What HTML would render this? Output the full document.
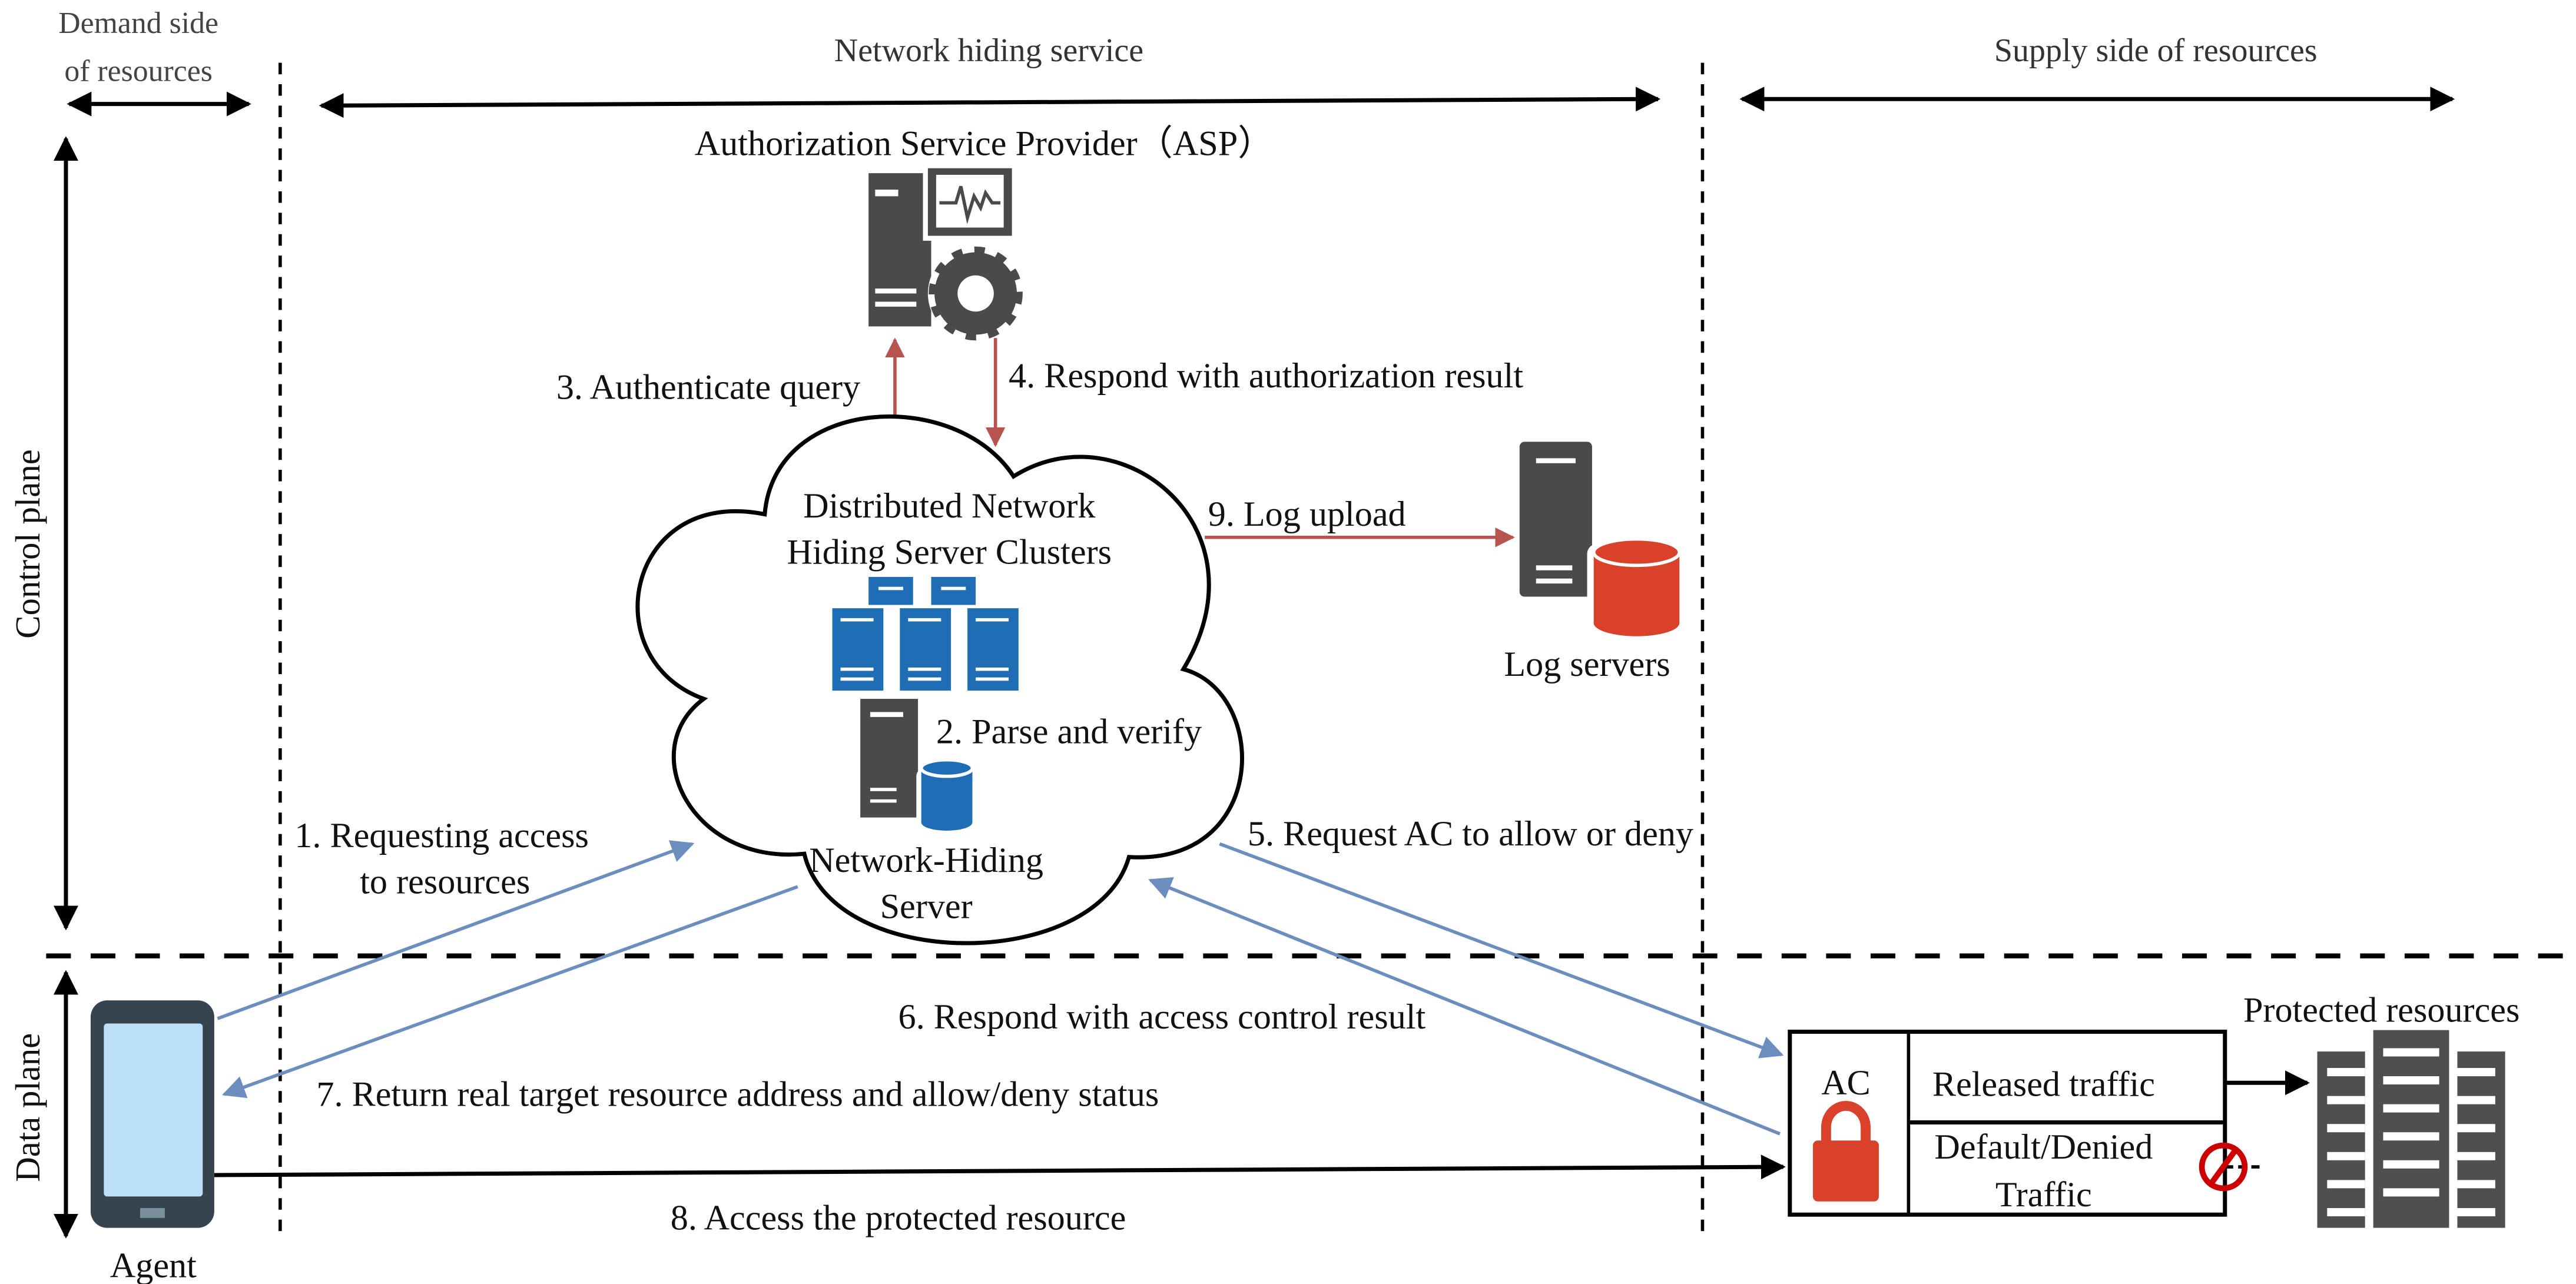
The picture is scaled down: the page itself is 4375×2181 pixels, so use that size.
<!DOCTYPE html>
<html><head><meta charset="utf-8"><style>
html,body{margin:0;padding:0;background:#fff}
svg{display:block}
</style></head><body>
<svg width="4375" height="2181" viewBox="0 0 1563 779" xmlns="http://www.w3.org/2000/svg" font-family="'Liberation Serif', 'Times New Roman', 'DejaVu Serif', serif">
<defs>
<marker id="ab" viewBox="0 0 10 10" refX="9" refY="5" markerWidth="6" markerHeight="6" orient="auto-start-reverse"><path d="M0,0 L10,5 L0,10 z" fill="#000"/></marker>
<marker id="ar" viewBox="0 0 10 10" refX="9" refY="5" markerWidth="6" markerHeight="6" orient="auto"><path d="M0,0 L10,5 L0,10 z" fill="#B85450"/></marker>
<marker id="au" viewBox="0 0 10 10" refX="9" refY="5" markerWidth="7" markerHeight="7" orient="auto"><path d="M0,0 L10,5 L0,10 z" fill="#6C8EBF"/></marker>
</defs>
<g font-family="'Liberation Serif', 'Times New Roman', serif" fill="#111">
<text x="84" y="20" font-size="18.5" text-anchor="middle" fill="#444">Demand side</text>
<text x="84" y="49" font-size="18.5" text-anchor="middle" fill="#444">of resources</text>
<text x="600" y="37" font-size="20" text-anchor="middle" fill="#333">Network hiding service</text>
<text x="1308" y="37" font-size="20" text-anchor="middle" fill="#333">Supply side of resources</text>
<line x1="42" y1="63" x2="151" y2="63" stroke="#000" stroke-width="2.5" marker-start="url(#ab)" marker-end="url(#ab)"/>
<line x1="195" y1="64" x2="1006" y2="60" stroke="#000" stroke-width="2.5" marker-start="url(#ab)" marker-end="url(#ab)"/>
<line x1="1057" y1="60" x2="1488" y2="60" stroke="#000" stroke-width="2.5" marker-start="url(#ab)" marker-end="url(#ab)"/>
<line x1="170" y1="38" x2="170" y2="752" stroke="#000" stroke-width="2" stroke-dasharray="7,6"/>
<line x1="1033" y1="38" x2="1033" y2="752" stroke="#000" stroke-width="2" stroke-dasharray="7,6"/>
<line x1="28" y1="580" x2="1555" y2="580" stroke="#000" stroke-width="3" stroke-dasharray="15,12"/>
<line x1="40" y1="84" x2="40" y2="563" stroke="#000" stroke-width="2.5" marker-start="url(#ab)" marker-end="url(#ab)"/>
<line x1="40" y1="590" x2="40" y2="750" stroke="#000" stroke-width="2.5" marker-start="url(#ab)" marker-end="url(#ab)"/>
<text transform="translate(24,330) rotate(-90)" font-size="21" text-anchor="middle">Control plane</text>
<text transform="translate(24,672) rotate(-90)" font-size="21" text-anchor="middle">Data plane</text>
<text x="597" y="94" font-size="21.5" text-anchor="middle">Authorization Service Provider（ASP）</text>
<rect x="527" y="105" width="38" height="93" fill="#4a4a4a"/>
<rect x="531" y="115" width="14" height="4" fill="#fff"/>
<rect x="531" y="175" width="25" height="3" fill="#fff"/>
<rect x="531" y="183" width="25" height="3" fill="#fff"/>
<rect x="560" y="99" width="57" height="47" fill="#fff"/>
<rect x="563" y="102" width="51" height="41" fill="#4a4a4a"/>
<rect x="568" y="106" width="41" height="32" fill="#fff"/>
<polyline points="570,123 580,123 583,113 587,132 591,119 595,126 598,117 602,123 607,123" fill="none" stroke="#4a4a4a" stroke-width="2"/>
<circle cx="592" cy="178" r="29" fill="#fff"/>
<circle cx="592" cy="178" r="25" fill="#4a4a4a" stroke="#4a4a4a" stroke-width="7" stroke-dasharray="6,7"/>
<circle cx="592" cy="178" r="21" fill="#4a4a4a"/>
<circle cx="592" cy="178" r="11" fill="#fff"/>
<line x1="543" y1="252" x2="543" y2="206" stroke="#B85450" stroke-width="2" marker-end="url(#ar)"/>
<line x1="604" y1="205" x2="604" y2="270" stroke="#B85450" stroke-width="2" marker-end="url(#ar)"/>
<text x="522" y="242" font-size="21.5" text-anchor="end">3. Authenticate query</text>
<text x="612" y="235" font-size="21.5">4. Respond with authorization result</text>
<path d="M464,312 C470,240 580,235 615,289 C680,248 770,320 718,406 C770,420 770,525 685,520 C665,590 505,590 488,518 C420,525 385,455 427,424 C360,400 380,295 464,312 Z" fill="#fff" stroke="#000" stroke-width="2.5"/>
<text x="576" y="314" font-size="21.5" text-anchor="middle">Distributed Network</text>
<text x="576" y="342" font-size="21.5" text-anchor="middle">Hiding Server Clusters</text>
<g fill="#1F6EB5">
<rect x="527" y="350" width="27" height="17"/><rect x="565" y="350" width="27" height="17"/>
<rect x="505" y="369" width="31" height="50"/><rect x="546" y="369" width="31" height="50"/><rect x="587" y="369" width="31" height="50"/>
</g>
<g fill="#fff">
<rect x="533" y="356" width="15" height="2"/><rect x="571" y="356" width="15" height="2"/>
<rect x="510" y="375" width="20" height="2"/><rect x="551" y="375" width="20" height="2"/><rect x="592" y="375" width="20" height="2"/>
<rect x="510" y="405" width="20" height="2"/><rect x="551" y="405" width="20" height="2"/><rect x="592" y="405" width="20" height="2"/>
<rect x="510" y="411" width="20" height="2"/><rect x="551" y="411" width="20" height="2"/><rect x="592" y="411" width="20" height="2"/>
</g>
<rect x="522" y="424" width="35" height="72" fill="#4a4a4a"/>
<rect x="528" y="432" width="20" height="3" fill="#fff"/>
<rect x="528" y="478" width="16" height="2" fill="#fff"/><rect x="528" y="485" width="16" height="2" fill="#fff"/>
<rect x="556" y="466" width="35" height="36" rx="5" fill="#fff"/>
<rect x="559" y="466" width="31" height="33" fill="#1F6EB5"/>
<ellipse cx="574.5" cy="466" rx="15.5" ry="5" fill="#1F6EB5" stroke="#fff" stroke-width="2"/>
<ellipse cx="574.5" cy="499" rx="15.5" ry="5" fill="#1F6EB5"/>
<text x="568" y="451" font-size="21.5">2. Parse and verify</text>
<text x="562" y="529" font-size="21.5" text-anchor="middle">Network-Hiding</text>
<text x="562" y="557" font-size="21.5" text-anchor="middle">Server</text>
<line x1="731" y1="326" x2="918" y2="326" stroke="#B85450" stroke-width="2" marker-end="url(#ar)"/>
<text x="733" y="319" font-size="21.5">9. Log upload</text>
<rect x="922" y="268" width="44" height="94" rx="3" fill="#4a4a4a"/>
<rect x="932" y="278" width="24" height="3" fill="#fff"/>
<rect x="932" y="343" width="22" height="3" fill="#fff"/><rect x="932" y="351" width="22" height="3" fill="#fff"/>
<rect x="963" y="330" width="60" height="55" rx="6" fill="#fff"/>
<rect x="967" y="335" width="52" height="43" fill="#D9412A"/>
<ellipse cx="993" cy="335" rx="26" ry="8" fill="#D9412A" stroke="#fff" stroke-width="2"/>
<ellipse cx="993" cy="378" rx="26" ry="8" fill="#D9412A"/>
<text x="963" y="410" font-size="21.5" text-anchor="middle">Log servers</text>
<line x1="132" y1="618" x2="420" y2="512" stroke="#6C8EBF" stroke-width="2" marker-end="url(#au)"/>
<line x1="484" y1="538" x2="136" y2="664" stroke="#6C8EBF" stroke-width="2" marker-end="url(#au)"/>
<line x1="740" y1="512" x2="1081" y2="640" stroke="#6C8EBF" stroke-width="2" marker-end="url(#au)"/>
<line x1="1080" y1="688" x2="698" y2="534" stroke="#6C8EBF" stroke-width="2" marker-end="url(#au)"/>
<text x="268" y="514" font-size="21.5" text-anchor="middle">1. Requesting access</text>
<text x="270" y="542" font-size="21.5" text-anchor="middle">to resources</text>
<text x="757" y="513" font-size="21.5">5. Request AC to allow or deny</text>
<text x="545" y="624" font-size="21.5">6. Respond with access control result</text>
<text x="192" y="671" font-size="21.5">7. Return real target resource address and allow/deny status</text>
<line x1="130" y1="713" x2="1082" y2="708" stroke="#000" stroke-width="2.5" marker-end="url(#ab)"/>
<text x="545" y="746" font-size="21.5" text-anchor="middle">8. Access the protected resource</text>
<rect x="55" y="607" width="75" height="138" rx="10" fill="#35444F"/>
<rect x="63" y="621" width="60" height="105" rx="2" fill="#BBDFF8"/>
<rect x="85" y="733" width="15" height="6" fill="#78909C"/>
<text x="93" y="775" font-size="21.5" text-anchor="middle">Agent</text>
<rect x="1086" y="626" width="264" height="111" fill="#fff" stroke="#000" stroke-width="2.5"/>
<line x1="1158" y1="626" x2="1158" y2="737" stroke="#000" stroke-width="2"/>
<line x1="1158" y1="681" x2="1350" y2="681" stroke="#000" stroke-width="2.5"/>
<text x="1120" y="664" font-size="21.5" text-anchor="middle">AC</text>
<path d="M1108,694 L1108,684 A12,13 0 0 1 1132,684 L1132,694" fill="none" stroke="#D9412A" stroke-width="6"/>
<rect x="1100" y="692" width="40" height="37" rx="3" fill="#D9412A"/>
<text x="1240" y="665" font-size="21.5" text-anchor="middle">Released traffic</text>
<text x="1240" y="703" font-size="21.5" text-anchor="middle">Default/Denied</text>
<text x="1240" y="732" font-size="21.5" text-anchor="middle">Traffic</text>
<line x1="1350" y1="657" x2="1400" y2="657" stroke="#000" stroke-width="2.5" marker-end="url(#ab)"/>
<line x1="1350" y1="708" x2="1372" y2="708" stroke="#000" stroke-width="2" stroke-dasharray="5,3"/>
<circle cx="1349" cy="708" r="13" fill="none" stroke="#CC0000" stroke-width="3.5"/>
<line x1="1341" y1="719" x2="1357" y2="697" stroke="#CC0000" stroke-width="3.5"/>
<text x="1445" y="620" font-size="21.5" text-anchor="middle">Protected resources</text>
<g fill="#4f4f4f">
<rect x="1406" y="638" width="29" height="107"/>
<rect x="1440" y="625" width="46" height="120"/>
<rect x="1491" y="638" width="29" height="107"/>
</g>
<g fill="#fff">
<rect x="1412" y="648" width="23" height="5"/><rect x="1412" y="665" width="23" height="5"/><rect x="1412" y="682" width="23" height="5"/><rect x="1412" y="699" width="23" height="5"/><rect x="1412" y="716" width="23" height="5"/><rect x="1412" y="733" width="23" height="5"/>
<rect x="1491" y="648" width="23" height="5"/><rect x="1491" y="665" width="23" height="5"/><rect x="1491" y="682" width="23" height="5"/><rect x="1491" y="699" width="23" height="5"/><rect x="1491" y="716" width="23" height="5"/><rect x="1491" y="733" width="23" height="5"/>
<rect x="1446" y="636" width="34" height="5"/><rect x="1446" y="653" width="34" height="5"/><rect x="1446" y="670" width="34" height="5"/><rect x="1446" y="687" width="34" height="5"/><rect x="1446" y="704" width="34" height="5"/><rect x="1446" y="721" width="34" height="5"/>
</g>
</g>
</svg>
</body></html>
